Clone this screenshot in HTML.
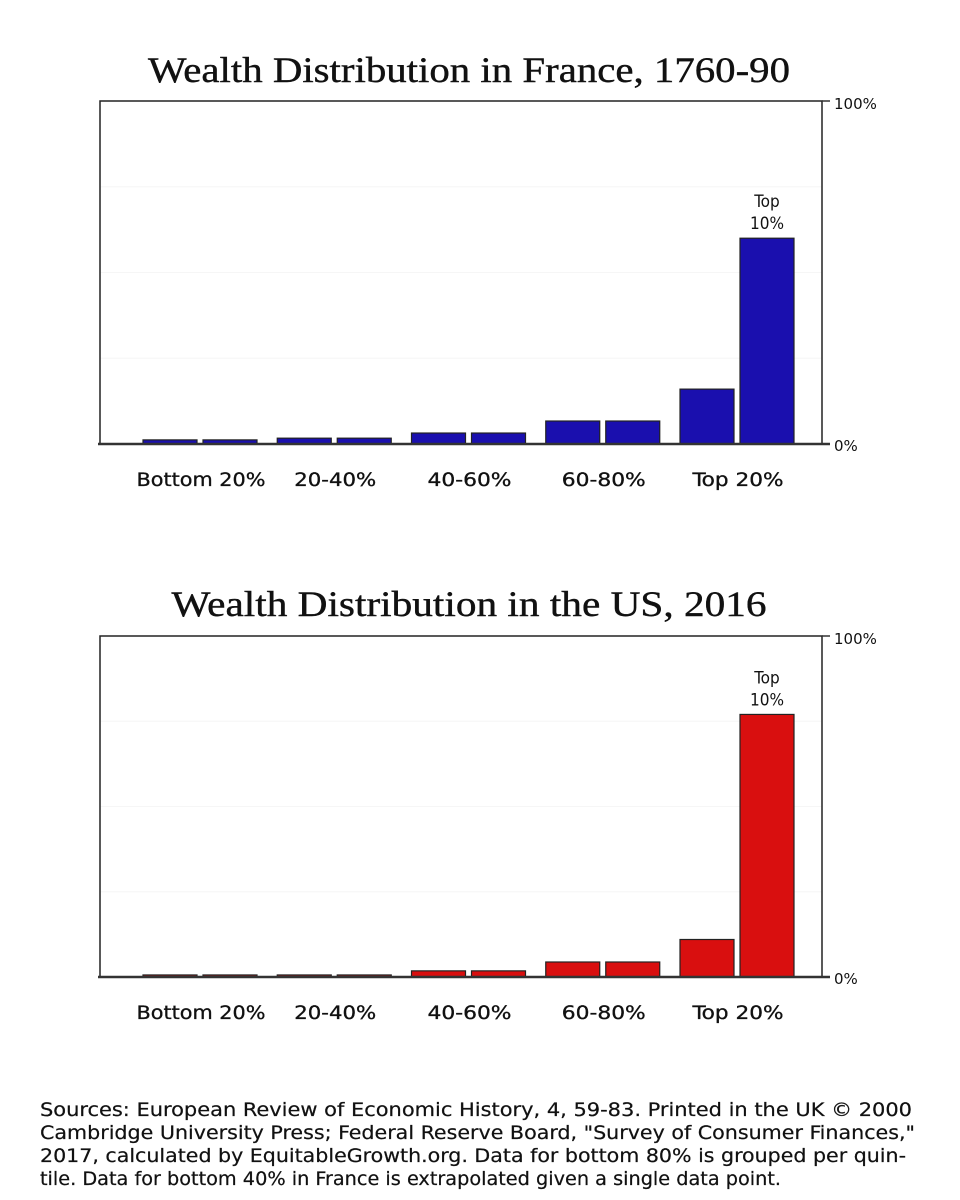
<!DOCTYPE html>
<html><head><meta charset="utf-8"><style>
html,body{margin:0;padding:0;background:#fff;}
svg{display:block;}
</style></head><body>
<svg id="root" width="960" height="1200" viewBox="0 0 960 1200" xmlns="http://www.w3.org/2000/svg">
<g id="c1"></g>
<g id="c2"></g>
<g font-family="'DejaVu Sans Condensed', 'DejaVu Sans', sans-serif" font-size="19" fill="#111" stroke="#111" stroke-width="0.2">
<text x="40" y="1116" textLength="872" lengthAdjust="spacingAndGlyphs">Sources: European Review of Economic History, 4, 59-83. Printed in the UK © 2000</text>
<text x="40" y="1139" textLength="875" lengthAdjust="spacingAndGlyphs">Cambridge University Press; Federal Reserve Board, "Survey of Consumer Finances,"</text>
<text x="40" y="1162" textLength="866" lengthAdjust="spacingAndGlyphs">2017, calculated by EquitableGrowth.org. Data for bottom 80% is grouped per quin-</text>
<text x="40" y="1185" textLength="741" lengthAdjust="spacingAndGlyphs">tile. Data for bottom 40% in France is extrapolated given a single data point.</text>
</g>
</svg>
<script>
const categories = ["Bottom 20%", "20-40%", "40-60%", "60-80%", "Top 20%"];
const franceValues = [1.2, 1.2, 1.7, 1.7, 3.2, 3.2, 6.7, 6.7, 16, 60];
const usValues = [0.6, 0.6, 0.6, 0.6, 1.8, 1.8, 4.4, 4.4, 11, 77];
const yTickLabels = ["0%", "100%"];
const chartTitles = ["Wealth Distribution in France, 1760-90", "Wealth Distribution in the US, 2016"];

const NS = "http://www.w3.org/2000/svg";
function mk(parent, tag, attrs, text) {
  const e = document.createElementNS(NS, tag);
  for (const k in attrs) e.setAttribute(k, attrs[k]);
  if (text !== undefined) e.textContent = text;
  parent.appendChild(e);
  return e;
}
const labelW = [129, 82, 84, 84, 91];
function drawChart(g, title, values, top, base, color, titleY, titleW) {
  const left = 100, right = 822;
  const y = v => base - (v / 100) * (base - top);
  const groupX = i => 143 + i * 134.25;
  const t = mk(g, "text", {x: 469 - titleW / 2, y: titleY, "font-family": "'Liberation Serif', serif", "font-size": 36, fill: "#111", stroke: "#111", "stroke-width": 0.4, textLength: titleW, lengthAdjust: "spacingAndGlyphs"}, title);
  
  
  [25, 50, 75].forEach(p => {
    const gl = mk(g, "line", {x1: left, x2: right, y1: y(p), y2: y(p), stroke: "#f6f6f6", "stroke-width": 1});
    
    
  });
  const frame = mk(g, "path", {d: `M${left},${base} L${left},${top} L${right},${top} L${right},${base}`, fill: "none", stroke: "#222", "stroke-width": 1.5});
  
  
  values.forEach((v, j) => {
    const gi = Math.floor(j / 2), k = j % 2;
    const x = groupX(gi) + k * 60;
    const r = mk(g, "rect", {x: x, y: y(v), width: 54, height: base - y(v), fill: color, stroke: "#222", "stroke-width": 1.2});
    
    
  });
  const ax = mk(g, "line", {x1: left - 2, x2: right + 8, y1: base, y2: base, stroke: "#333", "stroke-width": 2.5});
  
  
  const tx = mk(g, "line", {x1: right, x2: right + 8, y1: top, y2: top, stroke: "#333", "stroke-width": 1.5});
  
  
  const l0 = mk(g, "text", {x: 834, y: base + 7, "font-family": "'DejaVu Sans', sans-serif", "font-size": 15, fill: "#111"}, yTickLabels[0]);
  
  
  const l1 = mk(g, "text", {x: 834, y: top + 8, "font-family": "'DejaVu Sans', sans-serif", "font-size": 15, fill: "#111"}, yTickLabels[1]);
  
  
  categories.forEach((c, i) => {
    const cx = groupX(i) + 58;
    const ct = mk(g, "text", {x: cx - labelW[i] / 2, y: base + 42, "font-family": "'DejaVu Sans Condensed', 'DejaVu Sans', sans-serif", "font-size": 19, fill: "#111", stroke: "#111", "stroke-width": 0.3, textLength: labelW[i], lengthAdjust: "spacingAndGlyphs"}, c);
    
    
  });
  const topV = values[values.length - 1];
  const tcx = groupX(4) + 60 + 27;
  const a1 = mk(g, "text", {x: tcx, y: y(topV) - 31, "text-anchor": "middle", "font-family": "'DejaVu Sans Condensed', 'DejaVu Sans', sans-serif", "font-size": 17, fill: "#111"}, "Top");
  
  
  const a2 = mk(g, "text", {x: tcx, y: y(topV) - 9, "text-anchor": "middle", "font-family": "'DejaVu Sans Condensed', 'DejaVu Sans', sans-serif", "font-size": 17, fill: "#111"}, "10%");
  
  
}
drawChart(document.getElementById("c1"), chartTitles[0], franceValues, 101, 444, "#1a0fae", 82, 642);
drawChart(document.getElementById("c2"), chartTitles[1], usValues, 636, 977, "#d90f0f", 616, 595);
</script>
</body></html>
